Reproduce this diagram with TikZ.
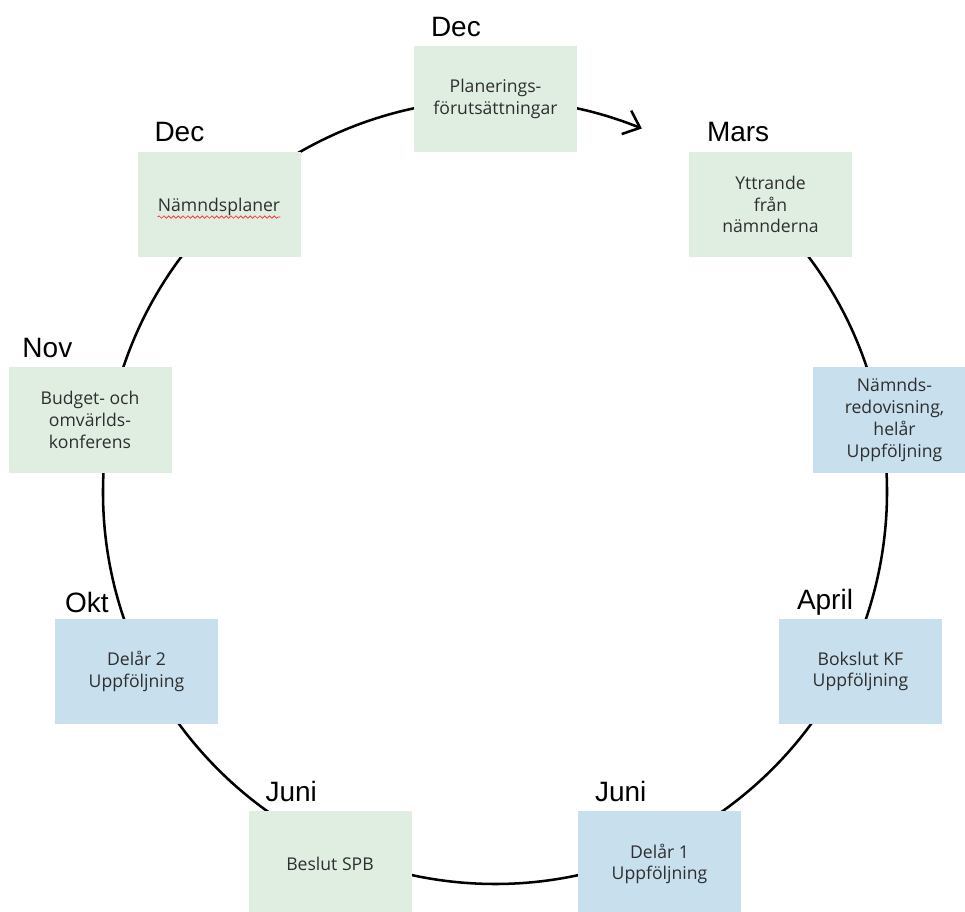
\documentclass[tikz,border=0pt]{standalone}
\usepackage{fontspec}
\setmainfont{Liberation Sans}
\newfontfamily\boxfont{Open Sans}
\usetikzlibrary{calc}
\usetikzlibrary{arrows.meta}
\usetikzlibrary{decorations.pathmorphing}
\definecolor{greenfill}{HTML}{E0EEE2}
\definecolor{bluefill}{HTML}{C8DFEE}
\definecolor{boxtext}{HTML}{2E2E2E}
\tikzstyle{stagetext} = [text=boxtext, font=\boxfont\fontsize{13.2}{16.3}\selectfont]
\tikzstyle{stage} = [rectangle, stagetext, minimum width=122.25pt, minimum height=79pt, inner sep=0pt, align=center]
\tikzstyle{colorA} = [fill=greenfill]
\tikzstyle{colorB} = [fill=bluefill]
\tikzstyle{month} = [anchor=base west, inner sep=0pt, font=\fontsize{21}{25}\selectfont]
\tikzstyle{ring} = [line width=1.9pt, -{Straight Barb[length=11pt,width=19pt,line width=1.9pt]}]
\tikzstyle{squiggle} = [draw=red!85, line width=0.5pt, decorate, decoration={snake, amplitude=0.9pt, segment length=3.6pt}]

\begin{document}
\begin{tikzpicture}[x=0.75pt, y=0.75pt]
    \useasboundingbox (0,0) rectangle (965,912);
    \clip (0,0) rectangle (965,912);

    % the yearly cycle
    \coordinate (ctr) at (495,420);
    \draw[ring] (ctr) ++(40:294pt) arc[start angle=40, end angle=-292, radius=294pt];

    \node[stage, colorA] (plan) at (495.5,813) {Planerings-\\förutsättningar};
    \node[month] (plan_month) at ($(plan.north west)+(17,10)$) {Dec};

    \node[stage, colorA] (namnd) at (219,707.5) {};
    \node[stagetext, inner sep=0pt] (namnd_txt) at ($(namnd)+(0,-2)$) {Nämndsplaner};
    \draw[squiggle] ([yshift=-4.5pt]namnd_txt.base west) -- ([yshift=-4.5pt]namnd_txt.base east);
    \node[month] (namnd_month) at ($(namnd.north west)+(17,10)$) {Dec};

    \node[stage, colorA] (yttr) at (770.5,707.5) {Yttrande\\från\\nämnderna};
    \node[month] (yttr_month) at ($(yttr.north west)+(18,10)$) {Mars};

    \node[stage, colorA] (budget) at (90,492) {Budget- och\\omvärlds-\\konferens};
    \node[month] (budget_month) at ($(budget.north west)+(14,10)$) {Nov};

    \node[stage, colorB] (redov) at (894.5,492) {Nämnds-\\redovisning,\\helår\\Uppföljning};

    \node[stage, colorB] (delar2) at (136.5,240.5) {Delår 2\\Uppföljning};
    \node[month] (delar2_month) at ($(delar2.north west)+(10,6)$) {Okt};

    \node[stage, colorB] (bokslut) at (860.5,240.5) {Bokslut KF\\Uppföljning};
    \node[month] (bokslut_month) at ($(bokslut.north west)+(18,9)$) {April};

    \node[stage, colorA] (beslut) at (330,48) {Beslut SPB};
    \node[month] (beslut_month) at ($(beslut.north west)+(17,10)$) {Juni};

    \node[stage, colorB] (delar1) at (659.5,48) {Delår 1\\Uppföljning};
    \node[month] (delar1_month) at ($(delar1.north west)+(17,10)$) {Juni};
\end{tikzpicture}
\end{document}
